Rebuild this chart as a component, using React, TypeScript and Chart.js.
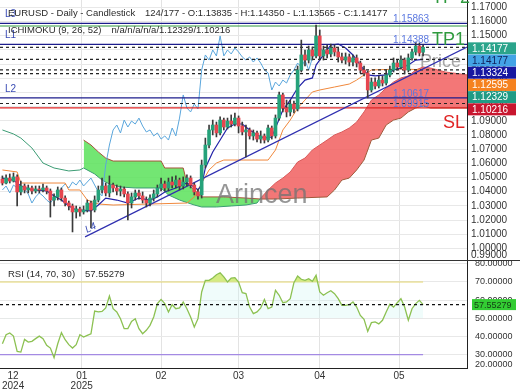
import React, { useEffect, useRef } from 'react';
import { Chart, registerables } from 'chart.js';

Chart.register(...registerables);

const FONT = '"Liberation Sans", Arial, Helvetica, sans-serif';

// ---- candles (daily, index 0 = first visible bar) ----
const open = [
  1.0489, 1.0461, 1.0496, 1.0475, 1.0504, 1.0398, 1.0440, 1.0412, 1.0426, 1.0405,
  1.0419, 1.0412, 1.0426, 1.0405, 1.0341, 1.0363, 1.0412, 1.0355, 1.0320, 1.0299,
  1.0257, 1.0278, 1.0257, 1.0271, 1.0320, 1.0271, 1.0341, 1.0412, 1.0440, 1.0391,
  1.0447, 1.0426, 1.0405, 1.0419, 1.0384, 1.0320, 1.0363, 1.0391, 1.0370, 1.0341,
  1.0320, 1.0355, 1.0384, 1.0426, 1.0454, 1.0426, 1.0468, 1.0447, 1.0482, 1.0440,
  1.0468, 1.0496, 1.0447, 1.0398, 1.0377, 1.0588, 1.0729, 1.0835, 1.0870, 1.0814,
  1.0905, 1.0856, 1.0898, 1.0877, 1.0919, 1.0863, 1.0821, 1.0835, 1.0793, 1.0814,
  1.0771, 1.0793, 1.0764, 1.0849, 1.0793, 1.0919, 1.1082, 1.0990, 1.0962, 1.1018,
  1.0983, 1.1258, 1.1364, 1.1328, 1.1399, 1.1357, 1.1498, 1.1357, 1.1399, 1.1371,
  1.1413, 1.1385, 1.1350, 1.1328, 1.1350, 1.1314, 1.1343, 1.1307, 1.1258, 1.1237,
  1.1117, 1.1173, 1.1145, 1.1187, 1.1166, 1.1223, 1.1258, 1.1307, 1.1279, 1.1328,
  1.1258, 1.1343, 1.1385, 1.1427, 1.13835,
];
const high = [
  1.0511, 1.0518, 1.0525, 1.0532, 1.0518, 1.0475, 1.0454, 1.0447, 1.0440, 1.0440,
  1.0440, 1.0454, 1.0440, 1.0419, 1.0384, 1.0433, 1.0426, 1.0370, 1.0334, 1.0313,
  1.0299, 1.0292, 1.0299, 1.0341, 1.0334, 1.0370, 1.0440, 1.0496, 1.0461, 1.0511,
  1.0461, 1.0447, 1.0440, 1.0433, 1.0398, 1.0391, 1.0412, 1.0412, 1.0398, 1.0363,
  1.0377, 1.0412, 1.0447, 1.0496, 1.0475, 1.0496, 1.0504, 1.0511, 1.0496, 1.0504,
  1.0518, 1.0511, 1.0461, 1.0419, 1.0623, 1.0778, 1.0870, 1.0905, 1.0891, 1.0927,
  1.0919, 1.0919, 1.0941, 1.0955, 1.0934, 1.0891, 1.0870, 1.0849, 1.0835, 1.0828,
  1.0828, 1.0807, 1.0870, 1.0863, 1.0941, 1.1103, 1.1096, 1.1046, 1.1046, 1.1039,
  1.1286, 1.1469, 1.1399, 1.1427, 1.1420, 1.1575, 1.1540, 1.1427, 1.1434, 1.1441,
  1.1434, 1.1413, 1.1378, 1.1378, 1.1371, 1.1364, 1.1364, 1.1321, 1.1286, 1.1251,
  1.1202, 1.1202, 1.1216, 1.1216, 1.1258, 1.1286, 1.1343, 1.1328, 1.1357, 1.1343,
  1.1371, 1.1406, 1.1455, 1.1448, 1.14350,
];
const low = [
  1.0447, 1.0454, 1.0461, 1.0468, 1.0299, 1.0377, 1.0391, 1.0391, 1.0384, 1.0391,
  1.0391, 1.0398, 1.0384, 1.0221, 1.0299, 1.0341, 1.0334, 1.0299, 1.0271, 1.0116,
  1.0214, 1.0228, 1.0242, 1.0257, 1.0144, 1.0257, 1.0327, 1.0391, 1.0370, 1.0363,
  1.0398, 1.0377, 1.0370, 1.0363, 1.0200, 1.0285, 1.0341, 1.0348, 1.0320, 1.0292,
  1.0299, 1.0334, 1.0363, 1.0405, 1.0405, 1.0405, 1.0426, 1.0426, 1.0412, 1.0419,
  1.0440, 1.0426, 1.0377, 1.0348, 1.0355, 1.0567, 1.0708, 1.0800, 1.0786, 1.0800,
  1.0835, 1.0842, 1.0856, 1.0863, 1.0814, 1.0800, 1.0645, 1.0771, 1.0764, 1.0750,
  1.0743, 1.0743, 1.0750, 1.0771, 1.0778, 1.0905, 1.0962, 1.0927, 1.0934, 1.0955,
  1.0969, 1.1244, 1.1286, 1.1307, 1.1328, 1.1343, 1.1328, 1.1328, 1.1343, 1.1350,
  1.1357, 1.1314, 1.1307, 1.1300, 1.1286, 1.1286, 1.1279, 1.1237, 1.1216, 1.1061,
  1.1103, 1.1124, 1.1131, 1.1145, 1.1152, 1.1209, 1.1244, 1.1258, 1.1265, 1.1230,
  1.1244, 1.1328, 1.1364, 1.1357, 1.13565,
];
const close = [
  1.0461, 1.0496, 1.0475, 1.0504, 1.0398, 1.0440, 1.0412, 1.0426, 1.0405, 1.0419,
  1.0412, 1.0426, 1.0405, 1.0341, 1.0363, 1.0412, 1.0355, 1.0320, 1.0299, 1.0257,
  1.0278, 1.0257, 1.0271, 1.0320, 1.0271, 1.0341, 1.0412, 1.0440, 1.0391, 1.0447,
  1.0426, 1.0405, 1.0419, 1.0384, 1.0320, 1.0363, 1.0391, 1.0370, 1.0341, 1.0320,
  1.0355, 1.0384, 1.0426, 1.0454, 1.0426, 1.0468, 1.0447, 1.0482, 1.0440, 1.0468,
  1.0496, 1.0447, 1.0398, 1.0370, 1.0588, 1.0729, 1.0835, 1.0870, 1.0814, 1.0905,
  1.0856, 1.0898, 1.0877, 1.0919, 1.0863, 1.0821, 1.0835, 1.0793, 1.0814, 1.0771,
  1.0793, 1.0764, 1.0849, 1.0793, 1.0919, 1.1082, 1.0990, 1.0962, 1.1018, 1.0983,
  1.1258, 1.1364, 1.1328, 1.1399, 1.1357, 1.1498, 1.1357, 1.1399, 1.1371, 1.1413,
  1.1385, 1.1350, 1.1328, 1.1350, 1.1314, 1.1343, 1.1307, 1.1258, 1.1237, 1.1117,
  1.1173, 1.1145, 1.1187, 1.1166, 1.1223, 1.1258, 1.1307, 1.1279, 1.1328, 1.1258,
  1.1343, 1.1385, 1.1427, 1.1378, 1.14177,
];

// ---- Ichimoku lines: [bar index, price] ----
const tenkan: [number, number][] = [
  [0, 1.0496], [3, 1.0482], [5, 1.0440], [8, 1.0412], [12, 1.0405], [14, 1.0370], [16, 1.0341],
  [18, 1.0299], [20, 1.0271], [24, 1.0264], [26, 1.0306], [28, 1.0355], [31, 1.0341], [34, 1.0320],
  [37, 1.0355], [40, 1.0341], [42, 1.0363], [44, 1.0398], [47, 1.0426], [50, 1.0461], [52, 1.0433],
  [53, 1.0412], [54, 1.0447], [55, 1.0567], [57, 1.0680], [59, 1.0764], [61, 1.0849], [63, 1.0877],
  [65, 1.0877], [67, 1.0835], [69, 1.0800], [71, 1.0778], [73, 1.0786], [74, 1.0849], [76, 1.0976],
  [78, 1.1046], [80, 1.1131], [82, 1.1187], [84, 1.1202], [85, 1.1293], [87, 1.1364], [89, 1.1434],
  [91, 1.1441], [93, 1.1413], [95, 1.1364], [97, 1.1293], [99, 1.1223], [101, 1.1216], [104, 1.1223],
  [106, 1.1258], [108, 1.1272], [110, 1.1293], [112, 1.1328], [114, 1.13324],
];
const kijun: [number, number][] = [
  [0, 1.0553], [4, 1.0539], [5, 1.0461], [17, 1.0461], [18, 1.0412], [21, 1.0412], [23, 1.0341],
  [26, 1.0313], [30, 1.0306], [50, 1.0320], [52, 1.0363], [54, 1.0461], [56, 1.0553], [58, 1.0602],
  [60, 1.0623], [72, 1.0623], [74, 1.0694], [76, 1.0835], [78, 1.0905], [80, 1.0990], [82, 1.1046],
  [84, 1.1103], [86, 1.1117], [90, 1.1138], [94, 1.1159], [96, 1.1187], [98, 1.1223], [100, 1.1258],
  [108, 1.1265], [114, 1.12595],
];
const spanA: [number, number][] = [
  [0, 1.0835], [3, 1.0807], [5, 1.0778], [8, 1.0708], [11, 1.0602], [14, 1.0567], [18, 1.0546],
  [21, 1.0553], [22, 1.0567], [25, 1.0525], [27, 1.0482], [29, 1.0454], [32, 1.0433], [36, 1.0426],
  [40, 1.0426], [43, 1.0426], [45, 1.0377], [48, 1.0341], [52, 1.0306], [54, 1.0292], [58, 1.0292],
  [62, 1.0299], [66, 1.0306], [69, 1.0320], [70, 1.0355], [72, 1.0412], [74, 1.0461], [76, 1.0496],
  [78, 1.0539], [80, 1.0609], [82, 1.0637], [84, 1.0694], [86, 1.0729], [88, 1.0764], [90, 1.0800],
  [92, 1.0821], [94, 1.0849], [96, 1.0891], [98, 1.0962], [100, 1.1046], [102, 1.1082], [104, 1.1131],
  [106, 1.1173], [108, 1.1202], [110, 1.1216], [112, 1.1258], [114, 1.1279], [116, 1.1272],
  [118, 1.1258], [120, 1.1244], [122, 1.1237], [124, 1.1230], [126, 1.1223],
];
const spanB: [number, number][] = [
  [22, 1.0764], [24, 1.0729], [26, 1.0680], [28, 1.0637], [30, 1.0616], [43, 1.0616], [44, 1.0567],
  [49, 1.0567], [50, 1.0461], [52, 1.0412], [54, 1.0363], [60, 1.0363], [66, 1.0355], [70, 1.0348],
  [74, 1.0348], [80, 1.0355], [88, 1.0363], [90, 1.0412], [92, 1.0482], [94, 1.0496], [96, 1.0553],
  [98, 1.0623], [100, 1.0764], [102, 1.0778], [104, 1.0870], [106, 1.0905], [108, 1.0919],
  [110, 1.0962], [112, 1.0990], [114, 1.1004], [116, 1.0990], [126, 1.0990],
];
const chikouShift = 26;

// ---- drawn levels ----
const navyLevels = [1.15863, 1.14388, 1.10617];
const lineNames = ['L3', 'L1', 'L2'];
const tpLevels = [1.1568];
const slLevels = [1.09915];
const dashedLevels = [1.14177, 1.13324, 1.12595, 1.12329, 1.10216];
const labeledLevels = [1.15863, 1.14388, 1.10617, 1.09915];
const trend: [number, number][] = [[22.4, 1.0081], [125.9, 1.1419]];
const markerValues = [1.14177, 1.14177, 1.13324, 1.12595, 1.12329, 1.10216];

// ---- RSI (14) ----
const rsi = [
  36.0, 41.0, 41.9, 40.2, 31.8, 31.4, 38.4, 36.9, 37.3, 38.8,
  40.2, 38.8, 35.1, 33.6, 28.3, 36.0, 42.1, 38.2, 35.5, 33.6,
  35.5, 41.0, 39.7, 40.6, 41.5, 54.0, 53.5, 53.8, 55.7, 62.3,
  55.3, 53.5, 49.8, 44.3, 44.3, 48.3, 49.8, 44.3, 41.5, 43.4,
  46.1, 50.7, 58.1, 60.4, 58.1, 53.5, 57.5, 55.3, 55.7, 59.0,
  55.3, 50.7, 45.2, 49.8, 64.5, 70.9, 70.9, 72.2, 74.0, 75.1,
  72.8, 70.0, 72.2, 72.4, 70.0, 64.1, 63.6, 56.2, 52.6, 53.5,
  55.7, 60.4, 55.3, 56.2, 65.4, 62.7, 58.6, 59.0, 60.8, 69.6,
  73.3, 71.5, 70.9, 71.8, 70.4, 73.7, 64.5, 62.7, 64.1, 65.2,
  63.6, 60.8, 57.1, 57.1, 57.5, 59.0, 56.2, 51.6, 49.4, 42.8,
  47.6, 48.0, 46.9, 48.9, 53.5, 57.7, 56.2, 58.6, 60.8, 56.2,
  48.9, 55.3, 58.1, 59.9, 57.55279,
];
const rsiUpper = 70;
const rsiLower = 30;
const rsiLast = 57.55279;

// ---- axes ----
const monthTicks = [2.9, 21.5, 43, 64, 86, 107.5];
const monthLabels = [['12', '2024'], ['01', '2025'], ['02'], ['03'], ['04'], ['05']];
const X_MIN = -0.65;
const X_MAX = 125.9;
const P_MIN = 0.99182;
const P_MAX = 1.17515;
const R_MIN = 22.62;
const R_MAX = 82.12;

const GREEN = '#25a27a';
const RED = '#e6464f';

const toPts = (arr: [number, number][]) => arr.map(([x, y]) => ({ x, y }));
const hLine = (v: number, x0 = X_MIN, x1 = X_MAX) => [{ x: x0, y: v }, { x: x1, y: v }];
const line = (data: any[], color: string, width = 1): any => ({
  type: 'line', data, borderColor: color, borderWidth: width, pointRadius: 0, fill: false, tension: 0,
});

const xGridColor = (c: any) => (c.index === 0 ? 'rgba(0,0,0,0)' : '#e3e3e3');
const setMonthTicks = (s: any) => { s.ticks = monthTicks.map((v) => ({ value: v })); };

const mainOverlay = {
  id: 'mainOverlay',
  beforeDatasetsDraw(chart: any) {
    const { ctx } = chart;
    ctx.save();
    ctx.font = `18px ${FONT}`;
    ctx.fillStyle = '#a6a6a6';
    ctx.textBaseline = 'alphabetic';
    ctx.fillText('Price', 420, 67);
    ctx.restore();
  },
  afterDatasetsDraw(chart: any) {
    const { ctx } = chart;
    const y = chart.scales.y;
    ctx.save();
    ctx.textAlign = 'left';
    ctx.textBaseline = 'alphabetic';
    ctx.font = `27px ${FONT}`;
    ctx.fillStyle = 'rgba(115,115,115,0.75)';
    ctx.fillText('Arincen', 216, 203);

    ctx.font = `10px ${FONT}`;
    ctx.fillStyle = '#5b78e0';
    labeledLevels.forEach((v) => ctx.fillText(v.toFixed(5), 393, y.getPixelForValue(v) - 1));

    ctx.fillStyle = '#3a4cb4';
    lineNames.forEach((n, i) => ctx.fillText(n, 5, y.getPixelForValue(navyLevels[i]) - 6));
    ctx.save();
    ctx.translate(87, 233);
    ctx.rotate(-0.46);
    ctx.font = `italic 10px ${FONT}`;
    ctx.fillText('L4', 0, 0);
    ctx.restore();

    ctx.font = `18px ${FONT}`;
    ctx.fillStyle = '#2f9a3e';
    ctx.fillText('TP1', 432, y.getPixelForValue(navyLevels[1]) + 0.5);
    ctx.fillText('TP 2', 432, 3);
    ctx.fillStyle = '#e02424';
    ctx.fillText('SL', 443, 128);

    ctx.font = `9.5px ${FONT}`;
    ctx.fillStyle = '#2b2b2b';
    ctx.textBaseline = 'middle';
    ctx.fillText('EURUSD - Daily - Candlestick', 8, 13);
    ctx.fillText('124/177 - O:1.13835 - H:1.14350 - L:1.13565 - C:1.14177', 145, 13);
    ctx.fillText('ICHIMOKU (9, 26, 52)', 8, 30);
    ctx.fillText('n/a/n/a/n/a/1.12329/1.10216', 111.5, 30);

    const bg = ['#2ba48b', '#43a3e6', '#1717a0', '#f5821f', '#1f9b85', '#c8162f'];
    const fg = ['#ffffff', '#10205a', '#ffffff', '#ffffff', '#ffffff', '#ffffff'];
    let prev = -Infinity;
    ctx.font = `10px ${FONT}`;
    markerValues.forEach((v, i) => {
      const cy = Math.max(y.getPixelForValue(v) + 1, prev + 12.2);
      prev = cy;
      ctx.fillStyle = bg[i];
      ctx.fillRect(468, cy - 6, 48, 12);
      ctx.fillStyle = fg[i];
      ctx.fillText(v.toFixed(5), 472, cy + 0.5);
    });
    ctx.fillStyle = '#333';
    ctx.fillText('0.99000', 471, 255);
    ctx.restore();
  },
};

const rsiOverlay = {
  id: 'rsiOverlay',
  afterDraw(chart: any) {
    const { ctx } = chart;
    const y = chart.scales.y;
    ctx.save();
    ctx.strokeStyle = '#333';
    ctx.lineWidth = 1;
    ctx.beginPath();
    ctx.moveTo(0, 0.5);
    ctx.lineTo(520, 0.5);
    ctx.stroke();
    ctx.textAlign = 'left';
    ctx.textBaseline = 'middle';
    ctx.font = `9.5px ${FONT}`;
    ctx.fillStyle = '#2b2b2b';
    ctx.fillText('RSI (14, 70, 30)', 8, 14);
    ctx.fillText(rsiLast.toFixed(5), 85, 14);
    const cy = y.getPixelForValue(rsiLast);
    ctx.fillStyle = '#33cc33';
    ctx.fillRect(472, cy - 5.5, 44, 11);
    ctx.font = `9px ${FONT}`;
    ctx.fillStyle = '#143d14';
    ctx.fillText(rsiLast.toFixed(5), 474, cy + 0.5);
    ctx.fillStyle = '#333';
    ctx.fillText('20.00000', 475, 105);
    ctx.restore();
  },
};

function mainConfig(): any {
  const bodies = close.map((c, i) => ({ x: i, y: [open[i], c] }));
  const wicks = close.map((_, i) => ({ x: i, y: [low[i], high[i]] }));
  const bodyColors = close.map((c, i) => (c >= open[i] ? GREEN : RED));
  const chikou = close.slice(chikouShift).map((c, i) => ({ x: i, y: c }));
  const firstB = spanB[0][0];
  const datasets: any[] = [
    { ...line(toPts(spanA.filter((p) => p[0] >= firstB)), 'rgba(0,0,0,0)', 0),
      fill: { target: 1, above: 'rgba(241,95,95,0.85)', below: 'rgba(90,226,90,0.85)' }, order: 20 },
    { ...line(toPts(spanB), '#a4553a', 1), order: 19 },
    { ...line(toPts(spanA), '#3c9c74', 1),
      segment: { borderColor: (c: any) => (c.p0.parsed.x >= 70 ? '#d85a5a' : '#3c9c74') }, order: 18 },
    { ...line(toPts(kijun), '#f0883c', 1), order: 15 },
    { ...line(chikou, '#5aa6dc', 1), order: 15 },
    { ...line(toPts(tenkan), '#2222a8', 1.2), order: 14 },
    ...navyLevels.map((v) => ({ ...line(hLine(v), '#1c1c8c', 1.2), order: 12 })),
    ...tpLevels.map((v) => ({ ...line(hLine(v), '#2f9a3e', 1.2), order: 12 })),
    ...slLevels.map((v) => ({ ...line(hLine(v), '#e02424', 1.2), order: 12 })),
    ...dashedLevels.map((v) => ({ ...line(hLine(v), '#222222', 1.2), borderDash: [3, 3], order: 12 })),
    { ...line(toPts(trend), '#3030b0', 1.2), order: 11 },
    { type: 'bar', data: wicks, backgroundColor: '#3a3a3a', barThickness: 1, grouped: false, order: 3 },
    { type: 'bar', data: bodies, backgroundColor: bodyColors, barThickness: 3, grouped: false, minBarLength: 1, order: 2 },
  ];
  return {
    type: 'line',
    data: { datasets },
    options: {
      responsive: false,
      animation: false,
      devicePixelRatio: 1,
      events: [],
      layout: { padding: 0 },
      plugins: { legend: { display: false }, tooltip: { enabled: false } },
      scales: {
        x: {
          type: 'linear', min: X_MIN, max: X_MAX, offset: false,
          grid: { color: xGridColor, drawTicks: false, offset: false },
          border: { display: false },
          ticks: { display: false },
          afterBuildTicks: setMonthTicks,
          afterFit: (s: any) => { s.height = 0; s.paddingLeft = 0; s.paddingRight = 0; },
        },
        y: {
          type: 'linear', position: 'right', min: P_MIN, max: P_MAX,
          grid: { color: '#e8e8e8', drawTicks: false },
          border: { display: true, color: '#222', width: 1 },
          ticks: {
            stepSize: 0.01, includeBounds: false, maxTicksLimit: 100, autoSkip: false, padding: 4, color: '#333',
            font: { size: 10, family: FONT }, callback: (v: any) => Number(v).toFixed(5),
          },
          afterFit: (s: any) => { s.width = 53; s.paddingTop = 0; s.paddingBottom = 0; },
        },
      },
    },
    plugins: [mainOverlay],
  };
}

function rsiConfig(): any {
  const pts = rsi.map((v, i) => ({ x: i, y: v }));
  const last = rsi.length - 1;
  const datasets: any[] = [
    { ...line(pts, 'rgba(0,0,0,0)', 0),
      fill: { target: { value: rsiUpper }, above: 'rgba(206,226,50,0.85)', below: 'rgba(0,0,0,0)' }, order: 10 },
    { ...line(hLine(rsiUpper, X_MIN, last), '#e3d66e', 1.2), order: 8 },
    { ...line(hLine(rsiLower, X_MIN, last), '#a48ae3', 1.2), order: 8 },
    { ...line(pts, '#8cc152', 1.3),
      fill: { target: { value: 50 }, above: 'rgba(205,246,242,0.3)', below: 'rgba(0,0,0,0)' }, order: 5 },
    { ...line(hLine(rsiLast), '#111111', 1.1), borderDash: [3, 3], order: 4 },
  ];
  return {
    type: 'line',
    data: { datasets },
    options: {
      responsive: false,
      animation: false,
      devicePixelRatio: 1,
      events: [],
      layout: { padding: 0 },
      plugins: { legend: { display: false }, tooltip: { enabled: false } },
      scales: {
        x: {
          type: 'linear', min: X_MIN, max: X_MAX, offset: false,
          grid: { color: xGridColor, drawTicks: false, offset: false },
          border: { display: true, color: '#222', width: 1 },
          ticks: {
            autoSkip: false, maxRotation: 0, padding: 3, color: '#333',
            font: { size: 10, family: FONT, lineHeight: 1 },
            callback: (_v: any, i: number) => monthLabels[i],
          },
          afterBuildTicks: setMonthTicks,
          afterFit: (s: any) => { s.height = 22; s.paddingLeft = 0; s.paddingRight = 0; },
        },
        y: {
          type: 'linear', position: 'right', min: R_MIN, max: R_MAX,
          grid: { color: '#e8e8e8', drawTicks: false },
          border: { display: true, color: '#222', width: 1 },
          ticks: {
            stepSize: 10, includeBounds: false, autoSkip: false, padding: 8, color: '#333',
            font: { size: 9, family: FONT }, callback: (v: any) => Number(v).toFixed(5),
          },
          afterFit: (s: any) => { s.width = 53; s.paddingTop = 0; s.paddingBottom = 0; },
        },
      },
    },
    plugins: [rsiOverlay],
  };
}

export default function App() {
  const mainRef = useRef<HTMLCanvasElement>(null);
  const rsiRef = useRef<HTMLCanvasElement>(null);
  useEffect(() => {
    document.body.style.margin = '0';
    const main = new Chart(mainRef.current as HTMLCanvasElement, mainConfig());
    const r = new Chart(rsiRef.current as HTMLCanvasElement, rsiConfig());
    return () => {
      main.destroy();
      r.destroy();
    };
  }, []);
  return (
    <div style={{ position: 'relative', width: 520, height: 390, background: '#ffffff', overflow: 'hidden' }}>
      <canvas ref={mainRef} width={520} height={260} style={{ position: 'absolute', left: 0, top: 0, display: 'block' }} />
      <canvas ref={rsiRef} width={520} height={130} style={{ position: 'absolute', left: 0, top: 260, display: 'block' }} />
    </div>
  );
}
